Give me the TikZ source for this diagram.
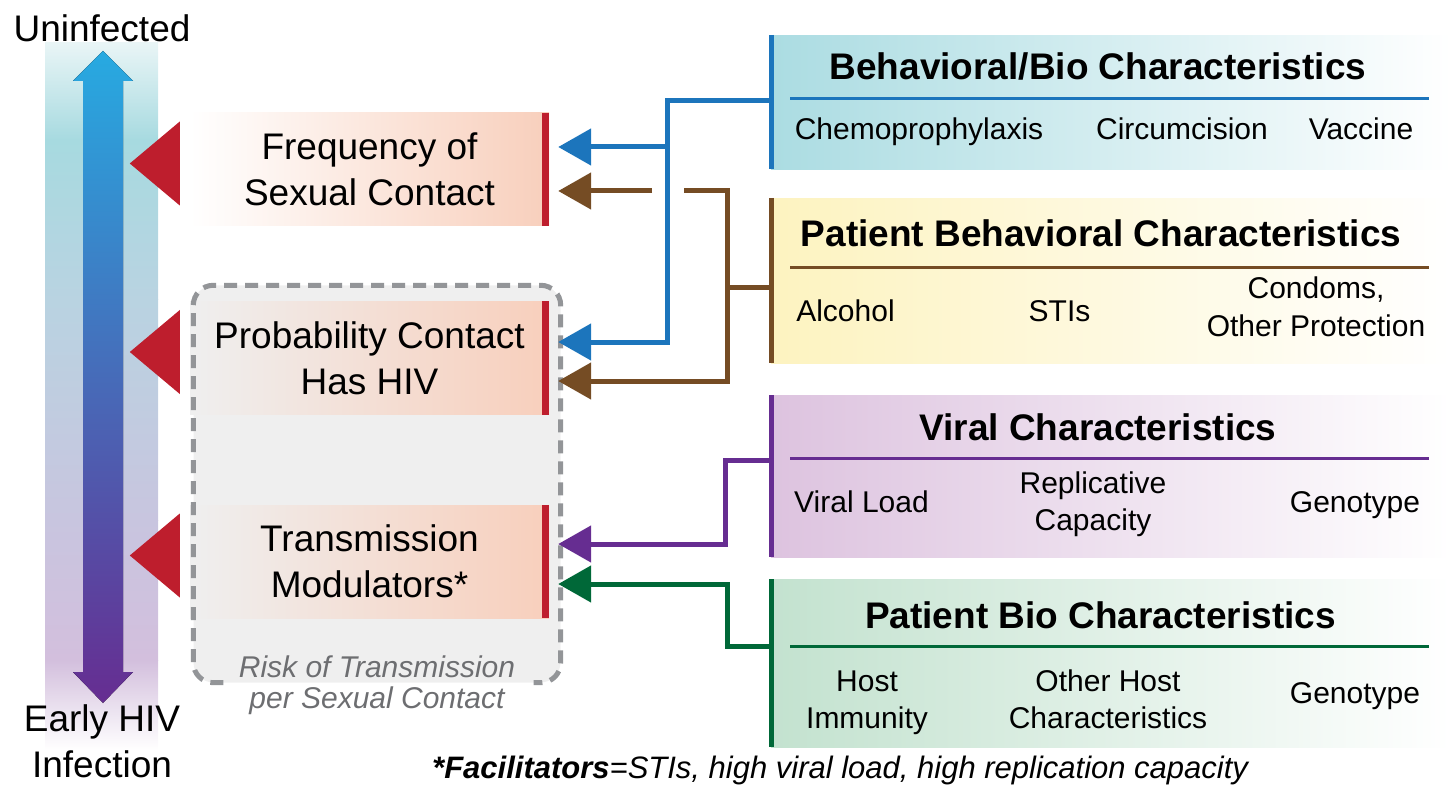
\documentclass[tikz,border=0pt]{standalone}
\usepackage{fontspec}
\setmainfont{Liberation Sans}
\usepackage{tikz}
\usetikzlibrary{shapes,arrows,arrows.meta,positioning,calc}

\definecolor{hivblue}{HTML}{1C75BC}
\definecolor{hivred}{HTML}{BE1E2D}
\definecolor{hivbrown}{HTML}{754C24}
\definecolor{hivpurple}{HTML}{662D91}
\definecolor{hivgreen}{HTML}{006838}
\definecolor{salmon}{HTML}{F8CFBC}
\definecolor{riskgray}{HTML}{EFEFEF}
\definecolor{dashgray}{HTML}{939598}
\definecolor{labelgray}{HTML}{6D6E71}
\definecolor{bluefill}{HTML}{ABDCE2}
\definecolor{yellowfill}{HTML}{FDF3C0}
\definecolor{purplefill}{HTML}{DDC3DF}
\definecolor{greenfill}{HTML}{C3E2CF}
\definecolor{bandA}{HTML}{E9F5F6}
\definecolor{bandB}{HTML}{A7DAE0}
\definecolor{bandC}{HTML}{B9D3E1}
\definecolor{bandD}{HTML}{C8C5DF}
\definecolor{bandE}{HTML}{D3BFDD}
\definecolor{arrowtop}{HTML}{27AAE1}
\definecolor{arrowmid}{HTML}{4D6AB2}

\newcommand{\bigfont}{\fontsize{37}{46}\selectfont}
\newcommand{\headfont}{\fontsize{37}{44}\selectfont\bfseries}
\newcommand{\itemfont}{\fontsize{30}{37}\selectfont}
\newcommand{\riskfont}{\fontsize{30}{31}\selectfont\itshape}
\newcommand{\notefont}{\fontsize{31}{37}\selectfont\itshape}

\tikzstyle{factor} = [rectangle, minimum width=359pt, minimum height=113pt, inner sep=0pt,
    align=center, font=\bigfont, right color=salmon]
\tikzstyle{redbar} = [draw=hivred, line width=7pt]
\tikzstyle{pointer} = [fill=hivred]
\tikzstyle{panel} = [rectangle, minimum width=680pt, inner sep=0pt, anchor=north west, right color=white]
\tikzstyle{edge} = [line width=5pt]
\tikzstyle{rule} = [line width=3pt]
\tikzstyle{header} = [font=\headfont, anchor=base, inner sep=0pt]
\tikzstyle{item} = [font=\itemfont, anchor=base, inner sep=0pt, align=center]
\tikzstyle{scaletext} = [font=\bigfont, anchor=base, inner sep=0pt, align=center]
\tikzstyle{wire} = [draw, line width=5pt, -{Triangle[length=33pt,width=36pt]}]
\tikzstyle{riskarea} = [rectangle, rounded corners=20pt, fill=riskgray, minimum width=367pt, minimum height=397pt]
\tikzstyle{riskline} = [draw=dashgray, line width=5pt, dash pattern=on 13pt off 8pt, rounded corners=20pt]

\begin{document}
\begin{tikzpicture}[x=1pt, y=-1pt]
      \useasboundingbox (0,0) rectangle (1451,786);
      % Left scale
      \fill[top color=bandA, bottom color=bandB] (45,43) rectangle (158,140);
      \fill[top color=bandB, bottom color=bandC] (45,140) rectangle (158,300);
      \fill[top color=bandC, bottom color=bandD] (45,300) rectangle (158,520);
      \fill[top color=bandD, bottom color=bandE] (45,520) rectangle (158,660);
      \fill[top color=bandE, bottom color=white] (45,660) rectangle (158,750);
      \fill[top color=arrowtop, middle color=arrowmid, bottom color=hivpurple]
        (103,51) -- (133,81) -- (123,81) -- (123,672) -- (133,672) -- (103,703)
        -- (73,672) -- (83,672) -- (83,81) -- (73,81) -- cycle;
      \node [scaletext] (uninfected) at (102,42) {Uninfected};
      \node [scaletext] (early) at (102,777) {Early HIV\\Infection};
      % Factors
      \node [riskarea] (risk) at (377,484) {};
      \node [factor, left color=white] (freq) at (369.5,169.5) {Frequency of\\Sexual Contact};
      \node [factor, left color=riskgray] (prob) at (369.5,358) {Probability Contact\\Has HIV};
      \node [factor, left color=riskgray] (trans) at (369.5,561.5) {Transmission\\Modulators*};
      \draw [redbar] ([xshift=-3.5pt]freq.north east) -- ([xshift=-3.5pt]freq.south east);
      \draw [redbar] ([xshift=-3.5pt]prob.north east) -- ([xshift=-3.5pt]prob.south east);
      \draw [redbar] ([xshift=-3.5pt]trans.north east) -- ([xshift=-3.5pt]trans.south east);
      \fill [pointer] ([xshift=-60pt,yshift=6pt]freq.west) -- ++(50,-42) -- ++(0,84) -- cycle;
      \fill [pointer] ([xshift=-60pt,yshift=6pt]prob.west) -- ++(50,-42) -- ++(0,84) -- cycle;
      \fill [pointer] ([xshift=-60pt,yshift=6pt]trans.west) -- ++(50,-42) -- ++(0,84) -- cycle;
      \draw [riskline] ([xshift=30pt]risk.south west) -| (risk.north west) -| (risk.south east)
        -- ([xshift=-27pt]risk.south east);
      \node [font=\riskfont, text=labelgray, anchor=base, align=center, inner sep=0pt] (risklabel)
        at (377,708) {Risk of Transmission\\per Sexual Contact};
      % Characteristics
      \node [panel, left color=bluefill, minimum height=134pt] (behav) at (771,35) {};
      \draw [edge, hivblue] (behav.north west) -- (behav.south west);
      \draw [rule, hivblue] (790,99) -- (1429,99);
      \node [header] (behav-title) at (1098,80) {Behavioral/Bio Characteristics};
      \node [item] (chemo) at (919,140) {Chemoprophylaxis};
      \node [item] (circ) at (1182,140) {Circumcision};
      \node [item] (vaccine) at (1361,140) {Vaccine};

      \node [panel, left color=yellowfill, minimum height=165pt] (patbeh) at (771,198) {};
      \draw [edge, hivbrown] (patbeh.north west) -- (patbeh.south west);
      \draw [rule, hivbrown] (790,268) -- (1429,268);
      \node [header] (patbeh-title) at (1101,247) {Patient Behavioral Characteristics};
      \node [item] (alcohol) at (845.5,322) {Alcohol};
      \node [item] (stis) at (1059.5,322) {STIs};
      \node [item] (condoms) at (1316,336) {Condoms,\\Other Protection};

      \node [panel, left color=purplefill, minimum height=162pt] (viral) at (771,395) {};
      \draw [edge, hivpurple] (viral.north west) -- (viral.south west);
      \draw [rule, hivpurple] (790,458) -- (1429,458);
      \node [header] (viral-title) at (1098,440) {Viral Characteristics};
      \node [item] (load) at (861.5,512) {Viral Load};
      \node [item] (replic) at (1093,530) {Replicative\\Capacity};
      \node [item] (vgeno) at (1355,512) {Genotype};

      \node [panel, left color=greenfill, minimum height=168pt] (bio) at (771,579) {};
      \draw [edge, hivgreen] (bio.north west) -- (bio.south west);
      \draw [rule, hivgreen] (790,646) -- (1429,646);
      \node [header] (bio-title) at (1100.5,628) {Patient Bio Characteristics};
      \node [item] (immunity) at (867,728) {Host\\Immunity};
      \node [item] (otherhost) at (1108,728) {Other Host\\Characteristics};
      \node [item] (pgeno) at (1355,703) {Genotype};

      \node [font=\notefont, anchor=base west, inner sep=0pt] (note) at (432,778)
        {\textbf{*Facilitators}=STIs, high viral load, high replication capacity};
      % Draw edges
      \coordinate (freq-in1) at ([xshift=9pt,yshift=22.5pt]freq.east);
      \coordinate (freq-in2) at ([xshift=9pt,yshift=-21.5pt]freq.east);
      \coordinate (prob-in1) at ([xshift=9pt,yshift=16pt]prob.east);
      \coordinate (prob-in2) at ([xshift=9pt,yshift=-23pt]prob.east);
      \coordinate (trans-in1) at ([xshift=9pt,yshift=17.5pt]trans.east);
      \coordinate (trans-in2) at ([xshift=9pt,yshift=-22.5pt]trans.east);
      \path [wire, hivblue] ([yshift=2pt]behav.west) -- ++(-104,0) coordinate (bluebus) |- (prob-in1);
      \path [wire, hivblue] (bluebus |- freq-in1) -- (freq-in1);
      \path [wire, hivbrown] ([yshift=-6.5pt]patbeh.west) -- ++(-44,0) coordinate (brownbus) |- (prob-in2);
      \path [wire, hivbrown, -] (brownbus) |- ($(bluebus |- freq-in2)+(17,0)$);
      \path [wire, hivbrown] ($(bluebus |- freq-in2)+(-15,0)$) -- (freq-in2);
      \path [wire, hivpurple] ([yshift=16pt]viral.west) -- ++(-46,0) |- (trans-in1);
      \path [wire, hivgreen] ([yshift=17pt]bio.west) -- ++(-44,0) |- (trans-in2);
    \end{tikzpicture}
\end{document}
